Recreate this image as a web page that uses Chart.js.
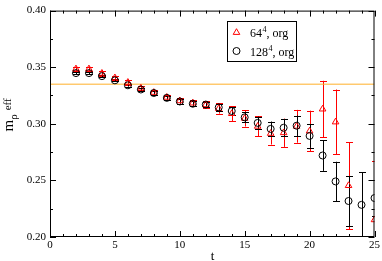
<!DOCTYPE html>
<html><head><meta charset="utf-8">
<script src="https://cdn.jsdelivr.net/npm/chart.js@4/dist/chart.umd.min.js"></script>
<style>html,body{margin:0;padding:0;background:#fff}</style>
</head><body>
<canvas id="c" width="382" height="261"></canvas>
<script>
const tValues = [2,3,4,5,6,7,8,9,10,11,12,13,14,15,16,17,18,19,20,21,22,23,24,25];
const m64 =    [0.3485,0.3485,0.3446,0.3406,0.3366,0.3315,0.3277,0.3234,0.3203,0.3183,0.3168,0.3135,0.3090,0.3048,0.2978,0.2915,0.2921,0.2978,0.2936,0.3130,0.3016,0.2454,null,0.2152];
const m64Err = [0.002,0.002,0.002,0.002,0.002,0.002,0.002,0.002,0.0025,0.003,0.003,0.0045,0.0065,0.0072,0.0088,0.0098,0.0125,0.0145,0.018,0.025,0.0287,0.0384,null,0.052];
const m128 =   [0.3448,0.3448,0.3421,0.3384,0.3340,0.3303,0.3272,0.3229,0.3197,0.3177,0.3170,0.3145,0.3113,0.3057,0.3008,0.2955,0.2965,0.2983,0.2893,0.2720,0.2491,0.2318,0.2284,0.2344];
const m128Err =[0.001,0.001,0.001,0.001,0.0012,0.0012,0.0014,0.0015,0.0018,0.002,0.0022,0.003,0.0035,0.0045,0.0055,0.0065,0.0075,0.009,0.0105,0.0136,0.0174,0.022,0.029,0.016];
const plateau = 0.335;
const xRange = [0, 25];
const yRange = [0.20, 0.40];
const xMajorStep = 5, xMinorStep = 1;
const yMajorStep = 0.05, yMinorStep = 0.025;
const seriesBases = ['64', '128'];
const seriesSuffix = ', org';
const xTitle = 't';

const RED = 'rgb(255,0,0)', BLACK = '#000', ORANGE = 'rgb(255,176,40)';
const FONT = '"Liberation Serif", "Times New Roman", serif';

function pts(ys){ return tValues.map((t,i)=> ys[i]==null?null:{x:t,y:ys[i]}).filter(p=>p); }

const errorBars = {
  id:'errorBars',
  beforeDatasetsDraw(chart){
    const {ctx, chartArea:a, scales:{x,y}} = chart;
    ctx.save();
    ctx.beginPath(); ctx.rect(a.left,a.top,a.right-a.left,a.bottom-a.top); ctx.clip();
    ctx.lineWidth = 1;
    [[m64,m64Err,RED],[m128,m128Err,BLACK]].forEach(([v,e,col])=>{
      ctx.strokeStyle = col;
      tValues.forEach((t,i)=>{
        if(v[i]==null||e[i]==null) return;
        const px = Math.round(x.getPixelForValue(t))+0.5;
        const y1 = y.getPixelForValue(v[i]+e[i]);
        const y2 = y.getPixelForValue(v[i]-e[i]);
        ctx.beginPath();
        ctx.moveTo(px,y1); ctx.lineTo(px,y2);
        ctx.moveTo(px-3.5,Math.round(y1)+0.5); ctx.lineTo(px+3.5,Math.round(y1)+0.5);
        ctx.moveTo(px-3.5,Math.round(y2)+0.5); ctx.lineTo(px+3.5,Math.round(y2)+0.5);
        ctx.stroke();
      });
    });
    ctx.restore();
  }
};

const frameAndExtras = {
  id:'frameAndExtras',
  afterDraw(chart){
    const {ctx, chartArea:a, scales:{x,y}} = chart;
    ctx.save();
    ctx.strokeStyle = BLACK; ctx.lineWidth = 1;
    ctx.strokeRect(a.left+0.5, a.top+0.5, a.right-a.left-1, a.bottom-a.top-1);
    ctx.beginPath();
    for(let t=xRange[0]; t<=xRange[1]+1e-9; t+=xMinorStep){
      const major = Math.abs(t/xMajorStep-Math.round(t/xMajorStep))<1e-6;
      const L = major?6:3;
      const px = Math.round(x.getPixelForValue(t))+0.5;
      ctx.moveTo(px,a.bottom); ctx.lineTo(px,a.bottom-L);
      ctx.moveTo(px,a.top); ctx.lineTo(px,a.top+L);
    }
    for(let v=yRange[0]; v<=yRange[1]+1e-9; v+=yMinorStep){
      const major = Math.abs(v/yMajorStep-Math.round(v/yMajorStep))<1e-6;
      const L = major?6:3;
      const py = Math.round(y.getPixelForValue(v))+0.5;
      ctx.moveTo(a.left,py); ctx.lineTo(a.left+L,py);
      ctx.moveTo(a.right,py); ctx.lineTo(a.right-L,py);
    }
    ctx.stroke();

    // legend
    const lx=227, ly=21, lw=69, lh=40;
    ctx.fillStyle='#fff'; ctx.fillRect(lx,ly,lw,lh);
    ctx.strokeRect(lx+0.5,ly+0.5,lw,lh);
    // triangle
    ctx.strokeStyle=RED;
    const r=3.8, tx=236.5, ty=32.5;
    ctx.beginPath();
    ctx.moveTo(tx,ty-r); ctx.lineTo(tx+r*0.866,ty+r/2); ctx.lineTo(tx-r*0.866,ty+r/2); ctx.closePath(); ctx.stroke();
    ctx.strokeStyle=BLACK;
    ctx.beginPath(); ctx.arc(236.5,51,3.5,0,Math.PI*2); ctx.stroke();
    ctx.fillStyle=BLACK; ctx.textBaseline='alphabetic'; ctx.textAlign='left';
    [[seriesBases[0],36.5],[seriesBases[1],55.5]].forEach(([b,by])=>{
      let cx=250;
      ctx.font='12px '+FONT; ctx.fillText(b,cx,by); cx+=ctx.measureText(b).width+0.5;
      ctx.font='8px '+FONT; ctx.fillText('4',cx,by-5); cx+=ctx.measureText('4').width;
      ctx.font='12px '+FONT; ctx.fillText(seriesSuffix,cx,by);
    });

    // x title
    ctx.font='13px '+FONT; ctx.textAlign='center';
    ctx.fillText(xTitle,212.5,259.5);

    // y title (rotated)
    ctx.save();
    ctx.translate(13,131.5); ctx.rotate(-Math.PI/2);
    ctx.textAlign='left';
    ctx.font='15px '+FONT; ctx.fillText('m',0,0);
    let w=ctx.measureText('m').width;
    ctx.font='11px '+FONT; ctx.fillText('\u03C1',w,3.5);
    w+=ctx.measureText('\u03C1').width+3;
    ctx.font='11px '+FONT; ctx.fillText('eff',w+1,-2.5);
    ctx.restore();
    ctx.restore();
  }
};

new Chart(document.getElementById('c'),{
  data:{datasets:[
    {type:'line',data:[{x:xRange[0],y:plateau},{x:xRange[1],y:plateau}],borderColor:ORANGE,borderWidth:1,pointRadius:0,order:3},
    {type:'scatter',data:pts(m64),pointStyle:'triangle',pointRadius:3.8,borderColor:RED,backgroundColor:'rgba(0,0,0,0)',borderWidth:1,order:2},
    {type:'scatter',data:pts(m128),pointStyle:'circle',pointRadius:3.5,borderColor:BLACK,backgroundColor:'rgba(0,0,0,0)',borderWidth:1,order:1}
  ]},
  options:{
    responsive:false, devicePixelRatio:1, animation:false,
    layout:{padding:{left:0,right:6,top:5,bottom:0}},
    plugins:{legend:{display:false},tooltip:{enabled:false}},
    scales:{
      x:{type:'linear',min:xRange[0],max:xRange[1],
        grid:{display:false,drawTicks:false},border:{display:false},
        ticks:{stepSize:xMajorStep,padding:2,color:BLACK,font:{family:FONT,size:11},maxRotation:0},
        afterFit(s){s.height=24;}},
      y:{type:'linear',min:yRange[0],max:yRange[1],
        grid:{display:false,drawTicks:false},border:{display:false},
        ticks:{stepSize:yMajorStep,padding:4,color:BLACK,font:{family:FONT,size:11},callback:v=>v.toFixed(2)},
        afterFit(s){s.width=50;}}
    }
  },
  plugins:[errorBars,frameAndExtras]
});
</script>
</body></html>
